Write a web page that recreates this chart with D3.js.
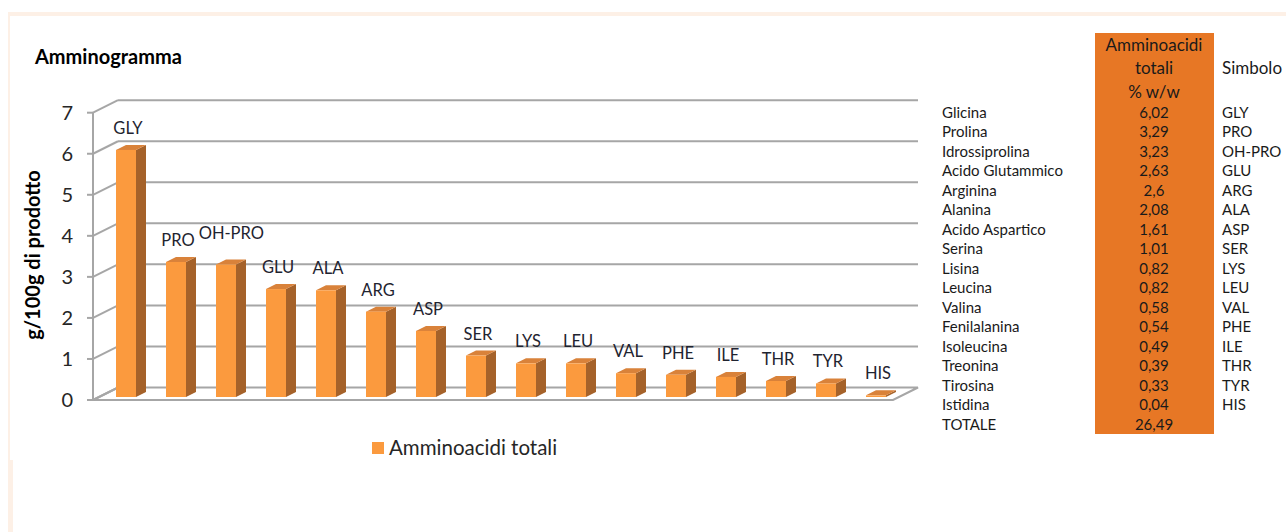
<!DOCTYPE html>
<html>
<head>
<meta charset="utf-8">
<script src="https://cdn.jsdelivr.net/npm/d3@7"></script>
<style>
    body { margin: 0; background: #fff; }
    svg text { font-family: Lato, "Open Sans", sans-serif; }
</style>
</head>
<body>
<svg id="chart"></svg>
<script>
// chart data (order as drawn)
const symbols = ['GLY', 'PRO', 'OH-PRO', 'GLU', 'ALA', 'ARG', 'ASP', 'SER', 'LYS', 'LEU', 'VAL', 'PHE', 'ILE', 'THR', 'TYR', 'HIS'];
const values = [6.02, 3.29, 3.23, 2.63, 2.6, 2.08, 1.61, 1.01, 0.82, 0.82, 0.58, 0.54, 0.49, 0.39, 0.33, 0.04];
const yTicks = [0, 1, 2, 3, 4, 5, 6, 7];
const seriesName = 'Amminoacidi totali';

// table at the right
const tableNames = ['Glicina', 'Prolina', 'Idrossiprolina', 'Acido Glutammico', 'Arginina', 'Alanina', 'Acido Aspartico', 'Serina', 'Lisina', 'Leucina', 'Valina', 'Fenilalanina', 'Isoleucina', 'Treonina', 'Tirosina', 'Istidina', 'TOTALE'];
const tableValues = ['6,02', '3,29', '3,23', '2,63', '2,6', '2,08', '1,61', '1,01', '0,82', '0,82', '0,58', '0,54', '0,49', '0,39', '0,33', '0,04', '26,49'];
const tableSymbols = ['GLY', 'PRO', 'OH-PRO', 'GLU', 'ARG', 'ALA', 'ASP', 'SER', 'LYS', 'LEU', 'VAL', 'PHE', 'ILE', 'THR', 'TYR', 'HIS', ''];
const tableHeader = ['Amminoacidi', 'totali', '% w/w'];

const svg = d3.select('#chart')
    .attr('width', 1286)
    .attr('height', 532);

// page frame
const peach = '#fdf0e6';
svg.append('rect').attr('x', 8).attr('y', 12).attr('width', 1278).attr('height', 4).attr('fill', peach);
svg.append('rect').attr('x', 8).attr('y', 12).attr('width', 2).attr('height', 448).attr('fill', peach);
svg.append('rect').attr('x', 8).attr('y', 460).attr('width', 5).attr('height', 72).attr('fill', peach);

// 3d depth of the plot box
const depthX = 25, depthY = -12.5;
const x = d3.scaleBand().domain(symbols).range([93, 893]);
const y = d3.scaleLinear().domain([0, 7]).range([400, 112.7]);
const bw = x.bandwidth();

const grid = '#a6a6a6';

// floor
const floor = [[93, y(0)], [893, y(0)], [893 + depthX, y(0) + depthY], [93 + depthX, y(0) + depthY]];
svg.append('polygon')
    .attr('points', floor.map(p => p.join(',')).join(' '))
    .attr('fill', '#fff')
    .attr('stroke', grid)
    .attr('stroke-width', 2);

// back wall gridlines + side wall diagonals
svg.selectAll('.gridline')
    .data(yTicks.filter(t => t > 0))
    .enter()
    .append('line')
    .attr('class', 'gridline')
    .attr('x1', 93 + depthX)
    .attr('x2', 893 + depthX)
    .attr('y1', d => y(d) + depthY)
    .attr('y2', d => y(d) + depthY)
    .attr('stroke', grid)
    .attr('stroke-width', 2);

svg.selectAll('.sidegrid')
    .data(yTicks)
    .enter()
    .append('line')
    .attr('class', 'sidegrid')
    .attr('x1', 93)
    .attr('x2', 93 + depthX)
    .attr('y1', d => y(d))
    .attr('y2', d => y(d) + depthY)
    .attr('stroke', grid)
    .attr('stroke-width', 2);

// front vertical axis with ticks
svg.append('line')
    .attr('x1', 93).attr('x2', 93)
    .attr('y1', y(0)).attr('y2', y(7))
    .attr('stroke', grid).attr('stroke-width', 2);

svg.selectAll('.tick')
    .data(yTicks)
    .enter()
    .append('line')
    .attr('x1', 87).attr('x2', 93)
    .attr('y1', d => y(d)).attr('y2', d => y(d))
    .attr('stroke', grid).attr('stroke-width', 2);

svg.selectAll('.ylabel')
    .data(yTicks)
    .enter()
    .append('text')
    .attr('x', 73)
    .attr('y', d => y(d))
    .attr('dy', '0.35em')
    .attr('text-anchor', 'end')
    .attr('font-size', 20)
    .attr('fill', '#262626')
    .text(d => d);

// axis title
svg.append('text')
    .attr('transform', 'translate(40,255) rotate(-90)')
    .attr('text-anchor', 'middle')
    .attr('font-size', 20)
    .attr('font-weight', 'bold')
    .attr('fill', '#000')
    .text('g/100g di prodotto');

// chart title
svg.append('text')
    .attr('x', 35).attr('y', 64)
    .attr('font-size', 20)
    .attr('font-weight', 'bold')
    .attr('fill', '#000')
    .text('Amminogramma');

// bars: front face sits at depth 0.24, back at 0.64
const dFront = 0.24, dBack = 0.64;
const barW = bw * 0.4;
const bars = symbols.map((s, i) => {
    const x0 = x(s) + bw * 0.34 + depthX * dFront;
    const yTop = y(values[i]) + depthY * dFront;
    const yBase = y(0) + depthY * dFront;
    const sx = depthX * (dBack - dFront), sy = depthY * (dBack - dFront);
    return { s, v: values[i], x0, yTop, yBase, sx, sy };
});

const g = svg.append('g');
g.selectAll('.side')
    .data(bars)
    .enter()
    .append('polygon')
    .attr('points', d => [
        [d.x0 + barW, d.yBase], [d.x0 + barW + d.sx, d.yBase + d.sy],
        [d.x0 + barW + d.sx, d.yTop + d.sy], [d.x0 + barW, d.yTop]
    ].map(p => p.join(',')).join(' '))
    .attr('fill', '#a5622a');

g.selectAll('.top')
    .data(bars)
    .enter()
    .append('polygon')
    .attr('points', d => [
        [d.x0, d.yTop], [d.x0 + barW, d.yTop],
        [d.x0 + barW + d.sx, d.yTop + d.sy], [d.x0 + d.sx, d.yTop + d.sy]
    ].map(p => p.join(',')).join(' '))
    .attr('fill', '#d9823a');

g.selectAll('.front')
    .data(bars)
    .enter()
    .append('rect')
    .attr('x', d => d.x0)
    .attr('y', d => d.yTop)
    .attr('width', barW)
    .attr('height', d => d.yBase - d.yTop)
    .attr('fill', '#fb9a3e');

// data labels (symbol above each bar)
const labels = g.selectAll('.dlabel')
    .data(bars)
    .enter()
    .append('text')
    .attr('class', 'dlabel')
    .attr('x', d => d.x0 + barW / 2 + 2)
    .attr('y', d => d.yTop - 16)
    .attr('text-anchor', 'middle')
    .attr('font-size', 16.5)
    .attr('fill', '#1f2430')
    .text(d => d.s);

// nudge a label up/right when it runs into the one before it
let prevBox = null;
labels.each(function () {
    const el = d3.select(this);
    let box = this.getBBox();
    if (prevBox && box.x < prevBox.x + prevBox.width + 3 && Math.abs(box.y - prevBox.y) < box.height) {
        const shift = prevBox.x + prevBox.width + 4 - box.x;
        el.attr('x', +el.attr('x') + shift).attr('y', +el.attr('y') - 9);
        box = this.getBBox();
    }
    prevBox = box;
});

// legend
svg.append('rect')
    .attr('x', 372).attr('y', 442)
    .attr('width', 12).attr('height', 12)
    .attr('fill', '#fb9a3e');
svg.append('text')
    .attr('x', 389).attr('y', 448)
    .attr('dy', '0.35em')
    .attr('font-size', 20.5)
    .attr('fill', '#262626')
    .text(seriesName);

// table
const rowY = d3.scaleLinear().domain([0, 1]).range([112.7, 132.2]);
svg.append('rect')
    .attr('x', 1095).attr('y', 33)
    .attr('width', 119).attr('height', 401)
    .attr('fill', '#e77725');

svg.selectAll('.hdr')
    .data(tableHeader)
    .enter()
    .append('text')
    .attr('x', 1154)
    .attr('y', (d, i) => 45 + i * 23.5)
    .attr('dy', '0.35em')
    .attr('text-anchor', 'middle')
    .attr('font-size', 17)
    .attr('fill', '#1a1a1a')
    .text(d => d);

svg.append('text')
    .attr('x', 1222).attr('y', 68.5)
    .attr('dy', '0.35em')
    .attr('font-size', 17)
    .attr('fill', '#1a1a1a')
    .text('Simbolo');

const rows = svg.selectAll('.row')
    .data(tableNames)
    .enter()
    .append('g')
    .attr('transform', (d, i) => `translate(0,${rowY(i)})`);

rows.append('text')
    .attr('x', 942).attr('dy', '0.35em')
    .attr('font-size', 15).attr('fill', '#1a1a1a')
    .text(d => d);

rows.append('text')
    .attr('x', 1154).attr('dy', '0.35em')
    .attr('text-anchor', 'middle')
    .attr('font-size', 15).attr('fill', '#1a1a1a')
    .text((d, i) => tableValues[i]);

rows.append('text')
    .attr('x', 1222).attr('dy', '0.35em')
    .attr('font-size', 15).attr('fill', '#1a1a1a')
    .text((d, i) => tableSymbols[i]);
</script>
</body>
</html>
